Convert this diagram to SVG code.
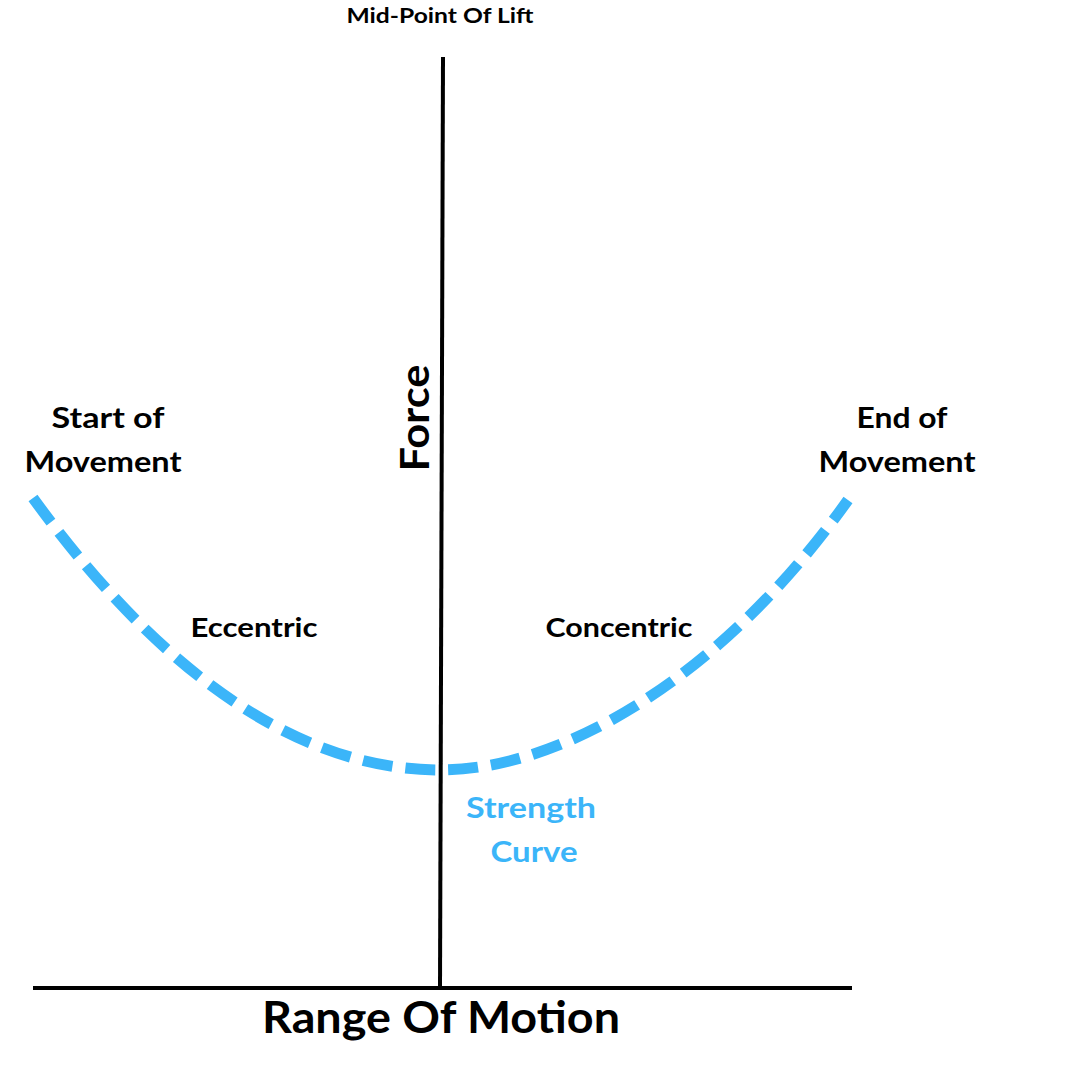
<svg xmlns="http://www.w3.org/2000/svg" width="1080" height="1080" viewBox="0 0 1080 1080">
<style>
.t{font-family:"Lato","Open Sans","Liberation Sans",sans-serif;font-weight:bold;fill:#000;text-anchor:middle}
.b{fill:#3bb5f9}
</style>
<rect width="1080" height="1080" fill="#fff"/>
<g id="connectors">
<line id="y-axis" x1="443" y1="57" x2="440" y2="988" stroke="#000" stroke-width="4"/>
<line id="x-axis" x1="33" y1="988" x2="852" y2="988" stroke="#000" stroke-width="4"/>
<path id="strength-curve" d="M33,498 C180,700 320,770 440,770 C560,770 720,680 848,500" fill="none" stroke="#3bb5f9" stroke-width="11" stroke-dasharray="30,13"/>
</g>
<g id="mid-point"><text class="t" x="440" y="23" font-size="21" textLength="187" lengthAdjust="spacingAndGlyphs">Mid-Point Of Lift</text></g>
<g id="force"><text class="t" transform="translate(429,418) rotate(-90)" font-size="40" textLength="107" lengthAdjust="spacingAndGlyphs">Force</text></g>
<g id="start"><text class="t" x="108" y="428" font-size="28" textLength="113" lengthAdjust="spacingAndGlyphs">Start of</text><text class="t" x="103" y="472" font-size="28" textLength="157" lengthAdjust="spacingAndGlyphs">Movement</text></g>
<g id="end"><text class="t" x="902" y="428" font-size="28" textLength="91" lengthAdjust="spacingAndGlyphs">End of</text><text class="t" x="897" y="472" font-size="28" textLength="157" lengthAdjust="spacingAndGlyphs">Movement</text></g>
<g id="eccentric"><text class="t" x="254" y="637" font-size="27" textLength="127" lengthAdjust="spacingAndGlyphs">Eccentric</text></g>
<g id="concentric"><text class="t" x="619" y="637" font-size="27" textLength="147" lengthAdjust="spacingAndGlyphs">Concentric</text></g>
<g id="strength-label"><text class="t b" x="531" y="818" font-size="28" textLength="130" lengthAdjust="spacingAndGlyphs">Strength</text><text class="t b" x="534" y="862" font-size="28" textLength="87" lengthAdjust="spacingAndGlyphs">Curve</text></g>
<g id="range"><text class="t" x="441" y="1033" font-size="43" textLength="358" lengthAdjust="spacingAndGlyphs">Range Of Motion</text></g>
</svg>
